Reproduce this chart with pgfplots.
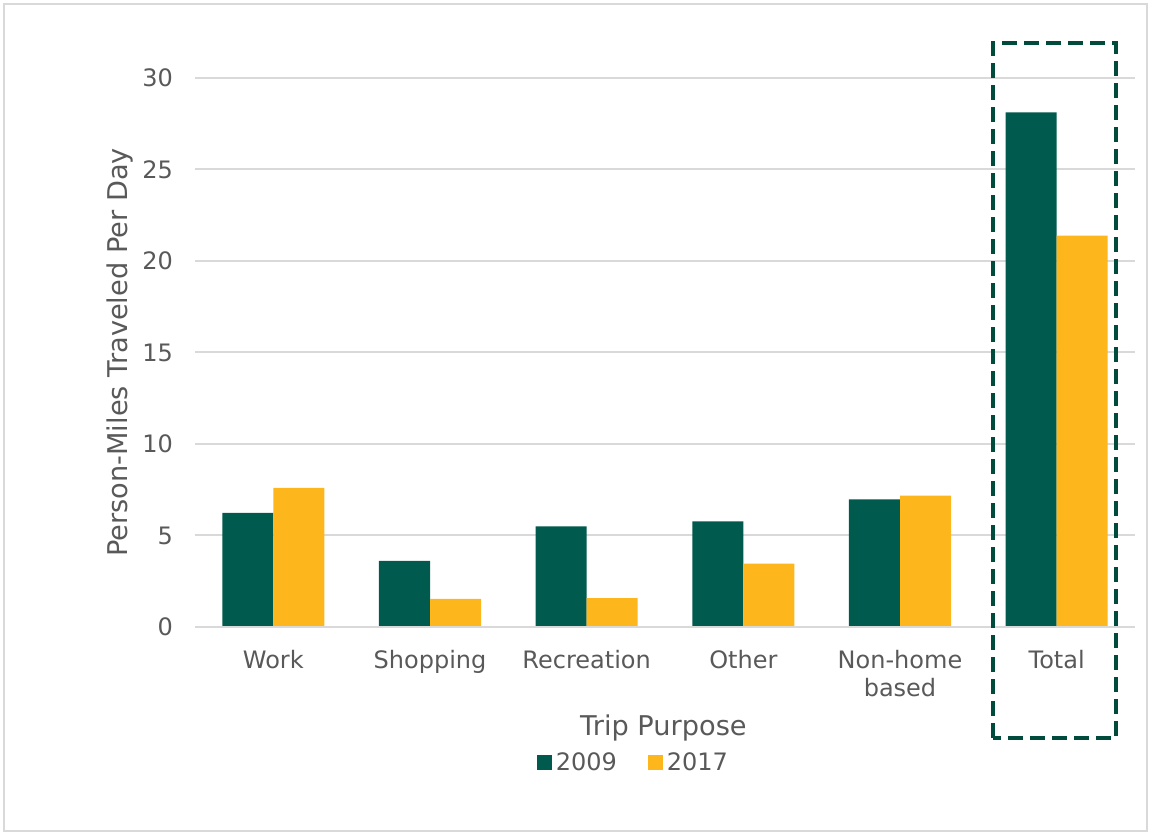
\documentclass[border=0pt]{standalone}
\usepackage{fontspec}
\setmainfont{DejaVu Sans}
\usepackage{pgfplots}
\pgfplotsset{compat=1.18}

\definecolor{green09}{HTML}{005A4E}
\definecolor{yellow17}{HTML}{FDB71C}
\definecolor{boxgreen}{HTML}{004B3C}
\definecolor{txtgray}{HTML}{595959}
\definecolor{gridgray}{HTML}{D9D9D9}

\begin{document}
% 1 px of the reference = 0.5pt
\begin{tikzpicture}
\useasboundingbox (0,0) rectangle (575.5pt,417.5pt);
\draw[gridgray, line width=1pt] (2pt,2pt) rectangle (573.5pt,415.5pt);
\begin{axis}[
    at={(97.5pt,104pt)}, anchor=south west,
    scale only axis,
    width=470pt, height=274.5pt,
    ybar=0pt,
    bar width=0.326,
    xmin=-0.5, xmax=5.5,
    ymin=0, ymax=30,
    enlargelimits=false,
    axis lines=left,
    axis line style={draw=none},
    clip=false,
    xtick={0,1,2,3,4,5},
    xticklabels={Work, Shopping, Recreation, Other, {Non-home\\based}, Total},
    ytick={0,5,10,15,20,25,30},
    major tick length=0pt,
    ymajorgrids=true,
    grid style={gridgray, line width=1pt},
    tick label style={font=\fontsize{12}{14}\selectfont, text=txtgray},
    xticklabel style={align=center, yshift=-8pt},
    yticklabel style={xshift=-7.5pt},
    /pgf/number format/assume math mode=true,
    legend style={at={(0.4675,-0.248)}, anchor=center, draw=none, fill=none,
        font=\fontsize{12}{14}\selectfont, text=txtgray,
        legend columns=2,
        /tikz/every even column/.append style={column sep=13.5pt}},
    legend image code/.code={\fill[#1] (0pt,-3.5pt) rectangle (7.5pt,4pt);},
]
\addplot[fill=green09, draw=none] coordinates {
    (0, 6.23) (1, 3.62) (2, 5.50) (3, 5.77) (4, 6.98) (5, 28.12)
};
\addlegendentry{2009}
\addplot[fill=yellow17, draw=none] coordinates {
    (0, 7.60) (1, 1.53) (2, 1.58) (3, 3.46) (4, 7.18) (5, 21.38)
};
\addlegendentry{2017}

\draw[gridgray, line width=1pt] (axis cs:-0.5,0) -- (axis cs:5.5,0);
\draw[boxgreen, line width=2pt, dash pattern=on 7.5pt off 3.5pt]
    (axis cs:4.594,-6.07) rectangle (axis cs:5.379,31.91);
\node[font=\fontsize{13.6}{15}\selectfont, text=txtgray, rotate=90]
    at (axis cs:-0.98,15) {Person-Miles Traveled Per Day};
\node[font=\fontsize{13.6}{15}\selectfont, text=txtgray]
    at (axis cs:2.49,-5.5) {Trip Purpose};
\end{axis}
\end{tikzpicture}
\end{document}
